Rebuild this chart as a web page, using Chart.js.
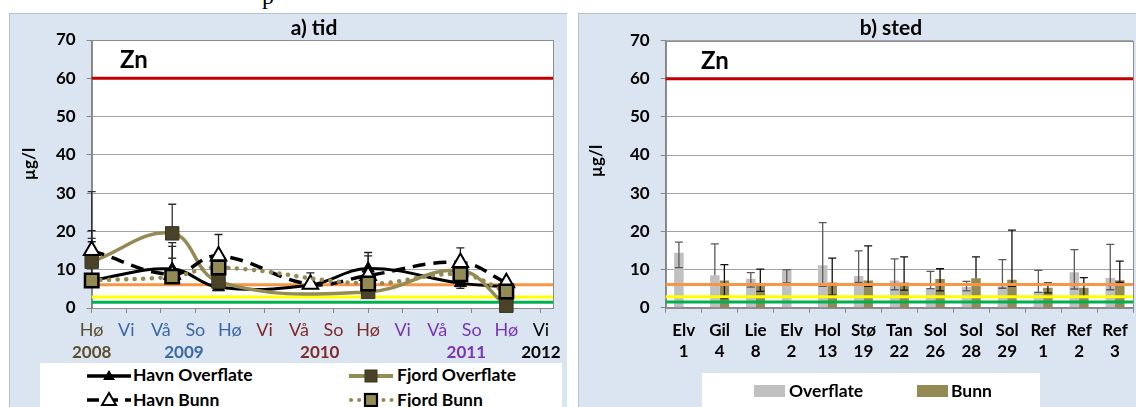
<!DOCTYPE html>
<html>
<head>
<meta charset="utf-8">
<script src="https://cdn.jsdelivr.net/npm/chart.js@4.4.0/dist/chart.umd.min.js"></script>
<style>
  body { margin: 0; width: 1136px; height: 407px; overflow: hidden; background: #fff; position: relative; font-family: Lato, sans-serif; }
  .panel { position: absolute; background: #dbe5f1; border-top: 1px solid #b8c2ce; }
  .box { position: absolute; background: #fff; }
  .lg { position: absolute; font: bold 17.5px Lato, sans-serif; color: #000; line-height: 18px; white-space: nowrap; }
  .sw { position: absolute; }
  canvas { position: absolute; }
  #frag { position: absolute; left: 262px; top: -16px; font: 24px "Liberation Serif", serif; line-height: 24px; }
</style>
</head>
<body>
<div id="frag">p</div>

<div class="panel" style="left:9px;top:13px;width:557px;height:394px;border-left:1px solid #b8c2ce"></div>
<div class="panel" style="left:578px;top:13px;width:558px;height:394px;border-left:1px solid #b8c2ce"></div>

<canvas id="tid" width="556" height="352" style="left:9px;top:13px"></canvas>
<canvas id="sted" width="558" height="352" style="left:578px;top:13px"></canvas>

<!-- legend a) -->
<div class="box" style="left:40px;top:363px;width:522px;height:44px"></div>
<svg class="sw" style="left:85px;top:367px" width="48" height="18">
  <line x1="2" y1="9" x2="46" y2="9" stroke="#000" stroke-width="3.5"/>
  <polygon points="24,3 30,13 18,13" fill="#000"/>
</svg>
<div class="lg" style="left:133px;top:366px">Havn Overflate</div>
<svg class="sw" style="left:347px;top:367px" width="48" height="18">
  <line x1="2" y1="9" x2="46" y2="9" stroke="#948a54" stroke-width="4"/>
  <rect x="18" y="3" width="12" height="12" fill="#4a4229" stroke="#3a3420"/>
</svg>
<div class="lg" style="left:397px;top:366px">Fjord Overflate</div>
<svg class="sw" style="left:85px;top:391px" width="48" height="18">
  <line x1="2" y1="9" x2="46" y2="9" stroke="#000" stroke-width="3.5" stroke-dasharray="12 7"/>
  <polygon points="24,2 31,14 17,14" fill="#fff" stroke="#000" stroke-width="2"/>
</svg>
<div class="lg" style="left:133px;top:391px">Havn Bunn</div>
<svg class="sw" style="left:347px;top:391px" width="48" height="18">
  <line x1="4" y1="9" x2="46" y2="9" stroke="#948a54" stroke-width="4" stroke-linecap="round" stroke-dasharray="0.1 8"/>
  <rect x="18" y="3" width="12" height="12" fill="#948a54" stroke="#000" stroke-width="2.2"/>
</svg>
<div class="lg" style="left:397px;top:391px">Fjord Bunn</div>

<!-- legend b) -->
<div class="box" style="left:702px;top:373px;width:338px;height:34px"></div>
<div class="sw" style="left:754px;top:385px;width:31px;height:12px;background:#c0c0c0"></div>
<div class="lg" style="left:789px;top:382px">Overflate</div>
<div class="sw" style="left:917px;top:385px;width:31px;height:12px;background:#948a54"></div>
<div class="lg" style="left:951px;top:382px">Bunn</div>

<script>
// ---- a) tid ----
const seasons = ["Hø", "Vi", "Vå", "So", "Hø", "Vi", "Vå", "So", "Hø", "Vi", "Vå", "So", "Hø", "Vi"];
const seasonColors = ["#5b4e2e", "#3b69a3", "#3b69a3", "#3b69a3", "#3b69a3",
  "#7f2b2b", "#7f2b2b", "#7f2b2b", "#7f2b2b",
  "#7a35b3", "#7a35b3", "#7a35b3", "#7a35b3", "#000000"];
const years = ["2008", "2009", "2010", "2011", "2012"];
const yearPos = [0, 2.67, 6.6, 10.84, 13];
const yearColors = ["#5b4e2e", "#3b69a3", "#7f2b2b", "#7a35b3", "#000000"];

const samplePos = [0, 2.33, 3.67, 6.33, 8, 10.67, 12];
const havnOverflate = [7.3, 10.2, 5.4, 6.0, 10.3, 6.5, 5.5];
const havnBunn = [15.0, 8.8, 13.6, 6.2, 8.5, 11.9, 6.6];
const fjordOverflate = [12.1, 19.5, 6.9, null, 4.2, 9.8, 0.6];
const fjordBunn = [7.2, 8.2, 10.6, null, 6.4, 8.8, 4.3];
// error bar ends
const havnOverflateHi = [17.3, 17.1, null, null, 14.5, null, null];
const havnOverflateLo = [null, null, null, null, null, 5.1, null];
const havnBunnHi = [20.2, 16.1, 19.2, 9.2, 13.6, 15.7, 7.2];
const fjordOverflateHi = [30.4, 27.1, null, null, null, null, null];
const fjordBunnHi = [18.2, 13.0, 14.4, null, null, null, null];

// ---- b) sted ----
const stations = [["Elv", "1"], ["Gil", "4"], ["Lie", "8"], ["Elv", "2"], ["Hol", "13"], ["Stø", "19"],
  ["Tan", "22"], ["Sol", "26"], ["Sol", "28"], ["Sol", "29"], ["Ref", "1"], ["Ref", "2"], ["Ref", "3"]];
const overflate = [14.4, 8.5, 7.6, 9.9, 11.1, 8.3, 7.1, 5.0, 5.4, 5.6, 4.2, 9.3, 7.8];
const overflateHi = [17.2, 16.7, 9.2, 10.0, 22.3, 14.9, 12.8, 9.5, 6.9, 12.6, 9.8, 15.2, 16.6];
const overflateLo = [10.5, null, 5.4, 6.5, 5.6, 6.6, 4.7, 5.0, 4.4, 5.1, 4.0, 4.9, 4.7];
const bunn = [null, 7.1, 5.8, null, 6.6, 7.1, 6.6, 7.5, 7.7, 7.3, 5.2, 5.2, 7.2];
const bunnHi = [null, 11.3, 10.1, null, 13.0, 16.2, 13.3, 10.2, 13.3, 20.3, 6.5, 7.9, 12.2];
const bunnLo = [null, 2.4, 4.3, null, 3.3, 5.6, 4.6, 4.4, null, 5.6, 3.9, 2.9, 6.6];

// limit lines (Zn classes)
const limitValues = [60, 6.1, 2.9, 1.5];
const limitColors = ["#c00000", "#f79646", "#ffff00", "#00b050"];

const FONT = "Lato, sans-serif";
const bold17 = { family: FONT, size: 17, weight: "bold" };

function drawLimits(chart) {
  const { ctx, chartArea: a } = chart;
  const y = chart.scales.y;
  ctx.save();
  ctx.lineWidth = 3;
  limitValues.forEach((v, i) => {
    const py = y.getPixelForValue(v);
    ctx.strokeStyle = limitColors[i];
    ctx.beginPath();
    ctx.moveTo(a.left, py);
    ctx.lineTo(a.right, py);
    ctx.stroke();
  });
  ctx.restore();
}

function drawErrorBars(chart) {
  const ctx = chart.ctx;
  const y = chart.scales.y;
  chart.data.datasets.forEach((ds, i) => {
    if (!ds.errHi) return;
    const meta = chart.getDatasetMeta(i);
    ctx.save();
    ctx.strokeStyle = ds.errColor || "#000";
    ctx.lineWidth = 1.3;
    meta.data.forEach((el, j) => {
      const raw = ds.data[j];
      const val = raw !== null && typeof raw === "object" ? raw.y : raw;
      if (val == null) return;
      const x = el.x;
      const y0 = y.getPixelForValue(val);
      [ds.errHi[j], ds.errLo ? ds.errLo[j] : null].forEach(e => {
        if (e == null) return;
        const ye = y.getPixelForValue(e);
        ctx.beginPath();
        ctx.moveTo(x, y0);
        ctx.lineTo(x, ye);
        ctx.moveTo(x - 4, ye);
        ctx.lineTo(x + 4, ye);
        ctx.stroke();
      });
    });
    ctx.restore();
  });
}

// white plot area
function fillArea(chart) {
  const { ctx, chartArea: a } = chart;
  ctx.save();
  ctx.fillStyle = "#fff";
  ctx.fillRect(a.left, a.top, a.right - a.left, a.bottom - a.top);
  ctx.restore();
}

function drawFrame(chart, titleY) {
  const { ctx, chartArea: a } = chart;
  ctx.save();
  ctx.strokeStyle = "#8c8c8c";
  ctx.lineWidth = 1;
  ctx.strokeRect(Math.round(a.left) + 0.5, Math.round(a.top) + 0.5, Math.round(a.right - a.left), Math.round(a.bottom - a.top));
  ctx.fillStyle = "#000";
  ctx.font = "bold 17px " + FONT;
  ctx.textAlign = "center";
  ctx.textBaseline = "middle";
  ctx.translate(chart.$unitX, titleY);
  ctx.rotate(-Math.PI / 2);
  ctx.fillText("µg/l", 0, 0);
  ctx.restore();
}

function drawText(ctx, text, x, y, font, color, align) {
  ctx.save();
  ctx.font = font;
  ctx.fillStyle = color || "#000";
  ctx.textAlign = align || "center";
  ctx.textBaseline = "middle";
  ctx.fillText(text, x, y);
  ctx.restore();
}

// ---------- chart a) ----------
const tidPlugin = {
  id: "tidExtras",
  beforeDraw: fillArea,
  beforeDatasetsDraw(chart) {
    chart.$unitX = 21;
    drawFrame(chart, 151);
    drawLimits(chart);
    drawErrorBars(chart);
  },
  afterDraw(chart) {
    const ctx = chart.ctx;
    const x = chart.scales.x;
    const b = chart.chartArea.bottom;
    years.forEach((t, i) => {
      drawText(ctx, t, x.getPixelForValue(yearPos[i]), b + 45, "bold 17px " + FONT, yearColors[i]);
    });
    drawText(ctx, "a) tid", 305, 15, "bold 21px " + FONT, "#000");
    drawText(ctx, "Zn", 111, chart.scales.y.getPixelForValue(64.6), "bold 24px " + FONT, "#000", "left");
  }
};

function pts(arr) {
  return samplePos.map((p, i) => ({ x: p, y: arr[i] }));
}

new Chart(document.getElementById("tid"), {
  type: "line",
  data: {
    datasets: [
      {
        label: "Havn Overflate", data: pts(havnOverflate), order: 4,
        borderColor: "#000", borderWidth: 3, tension: 0.4, clip: false,
        pointStyle: "triangle", pointRadius: 7, pointBackgroundColor: "#000", pointBorderColor: "#000", pointBorderWidth: 1,
        errHi: havnOverflateHi, errLo: havnOverflateLo, errColor: "#222"
      },
      {
        label: "Fjord Overflate", data: pts(fjordOverflate), order: 3, spanGaps: true,
        borderColor: "#948a54", borderWidth: 3.5, tension: 0.4, clip: false,
        pointStyle: "rect", pointRadius: 9.5, pointBackgroundColor: "#4a4229", pointBorderColor: "#3a3420", pointBorderWidth: 1,
        errHi: fjordOverflateHi, errColor: "#333"
      },
      {
        label: "Havn Bunn", data: pts(havnBunn), order: 2,
        borderColor: "#000", borderWidth: 3.5, borderDash: [13, 8], tension: 0.4, clip: false,
        pointStyle: "triangle", pointRadius: 9, pointBackgroundColor: "#fff", pointBorderColor: "#000", pointBorderWidth: 2,
        errHi: havnBunnHi, errColor: "#222"
      },
      {
        label: "Fjord Bunn", data: pts(fjordBunn), order: 1, spanGaps: true,
        borderColor: "#948a54", borderWidth: 4.5, borderDash: [0.1, 8.5], borderCapStyle: "round", tension: 0.4, clip: false,
        pointStyle: "rect", pointRadius: 9.5, pointBackgroundColor: "#948a54", pointBorderColor: "#000", pointBorderWidth: 2.5,
        errHi: fjordBunnHi, errColor: "#333"
      }
    ]
  },
  options: {
    responsive: false,
    animation: false,
    devicePixelRatio: 1,
    layout: { padding: { left: 0, top: 27, right: 6, bottom: 0 } },
    plugins: { legend: { display: false }, tooltip: { enabled: false } },
    scales: {
      x: {
        type: "linear", min: 0, max: 13.35,
        ticks: {
          stepSize: 1, includeBounds: false, autoSkip: false, maxRotation: 0, padding: 6,
          font: { family: FONT, size: 18 },
          color: c => seasonColors[c.index] || "#000",
          callback: v => seasons[Math.round(v)] || ""
        },
        grid: { drawOnChartArea: false, tickLength: 5, color: "#868686" },
        border: { color: "#868686" },
        afterFit: s => { s.height = 57; }
      },
      y: {
        min: 0, max: 70,
        ticks: { stepSize: 10, color: "#000", font: bold17, padding: 11 },
        grid: { color: "#a3a3a3", tickLength: 5, tickColor: "#868686" },
        border: { color: "#868686" },
        afterFit: s => { s.width = 82.7; }
      }
    }
  },
  plugins: [tidPlugin]
});

// ---------- chart b) ----------
const stedPlugin = {
  id: "stedExtras",
  beforeDraw: fillArea,
  beforeDatasetsDraw(chart) {
    chart.$unitX = 19;
    drawFrame(chart, 148);
  },
  afterDatasetsDraw(chart) {
    drawErrorBars(chart);
    drawLimits(chart);
  },
  afterDraw(chart) {
    const ctx = chart.ctx;
    drawText(ctx, "b) sted", 313, 15, "bold 21px " + FONT, "#000");
    drawText(ctx, "Zn", 123, chart.scales.y.getPixelForValue(64.6), "bold 24px " + FONT, "#000", "left");
  }
};

new Chart(document.getElementById("sted"), {
  type: "bar",
  data: {
    labels: stations,
    datasets: [
      {
        label: "Overflate", data: overflate, backgroundColor: "#c0c0c0",
        categoryPercentage: 0.53, barPercentage: 1.0,
        errHi: overflateHi, errLo: overflateLo, errColor: "#5a5a5a"
      },
      {
        label: "Bunn", data: bunn, backgroundColor: "#948a54",
        categoryPercentage: 0.53, barPercentage: 1.0,
        errHi: bunnHi, errLo: bunnLo, errColor: "#111"
      }
    ]
  },
  options: {
    responsive: false,
    animation: false,
    devicePixelRatio: 1,
    layout: { padding: { left: 0, top: 27.5, right: 3, bottom: 0 } },
    plugins: { legend: { display: false }, tooltip: { enabled: false } },
    scales: {
      x: {
        ticks: { color: "#000", font: { family: FONT, size: 17, weight: "bold", lineHeight: 1.25 }, padding: 7, autoSkip: false, maxRotation: 0 },
        grid: { offset: true, drawOnChartArea: false, tickLength: 5, color: "#868686" },
        border: { color: "#868686" },
        afterFit: s => { s.height = 57.3; }
      },
      y: {
        min: 0, max: 70,
        ticks: { stepSize: 10, color: "#000", font: bold17, padding: 11 },
        grid: { color: "#a3a3a3", tickLength: 5, tickColor: "#868686" },
        border: { color: "#868686" },
        afterFit: s => { s.width = 87.7; }
      }
    }
  },
  plugins: [stedPlugin]
});
</script>
</body>
</html>
